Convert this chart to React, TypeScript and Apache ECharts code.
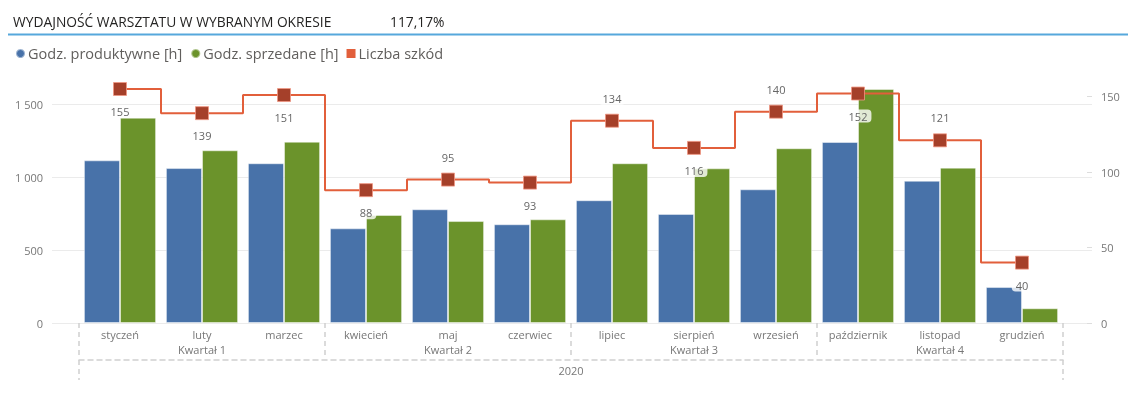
import React, { useEffect, useRef } from "react";
import * as echarts from "echarts";

const TITLE = "WYDAJNOŚĆ WARSZTATU W WYBRANYM OKRESIE";
const KPI = "117,17%";
const MONTHS = ["styczeń", "luty", "marzec", "kwiecień", "maj", "czerwiec", "lipiec", "sierpień", "wrzesień", "październik", "listopad", "grudzień"];
const QUARTERS = ["Kwartał 1", "Kwartał 2", "Kwartał 3", "Kwartał 4"];
const YEARS = ["2020"];
const SERIES_NAMES = ["Godz. produktywne [h]", "Godz. sprzedane [h]", "Liczba szkód"];
const PRODUCTIVE = [1117, 1064, 1097, 650, 781, 678, 843, 749, 918, 1243, 977, 247];
const SOLD = [1410, 1186, 1245, 742, 700, 712, 1097, 1062, 1200, 1607, 1067, 101];
const CLAIMS = [155, 139, 151, 88, 95, 93, 134, 116, 140, 152, 121, 40];
const LABEL_SIDES = ["bottom", "bottom", "bottom", "bottom", "top", "bottom", "top", "bottom", "top", "bottom", "top", "bottom"];

const FONT = "'Segoe UI', 'Open Sans', sans-serif";
const BLUE = "#4872A9";
const GREEN = "#6B932B";
const LINE = "#E25F3B";
const MARKER = "#A5402A";
const AXIS_TXT = "#777777";
const DASH = "#cfcfcf";

const fmt = (v: number) => String(v).replace(/\B(?=(\d{3})+(?!\d))/g, " ");

export default function App() {
  const ref = useRef<HTMLDivElement>(null);
  useEffect(() => {
    if (!ref.current) return;
    const chart = echarts.init(ref.current, null, { renderer: "svg" });
    const leftMax = Math.max(...PRODUCTIVE, ...SOLD);
    const rightMax = Math.max(...CLAIMS);
    const top = 89;
    const height = 234;
    const dashStyle = { color: DASH, width: 1.5, type: [5, 4] as any };
    chart.setOption({
      animation: false,
      textStyle: { fontFamily: FONT },
      graphic: [
        { type: "text", left: 13, top: 14, style: { text: TITLE, fontSize: 13.8, fill: "#252423", fontFamily: FONT } },
        { type: "text", left: 390, top: 14, style: { text: KPI, fontSize: 13.8, fill: "#252423", fontFamily: FONT } },
        { type: "line", shape: { x1: 8, y1: 34.5, x2: 1128, y2: 34.5 }, style: { stroke: "#56A8DC", lineWidth: 2 } },
      ],
      legend: {
        left: 10,
        top: 41,
        itemWidth: 9,
        itemHeight: 9,
        itemGap: 8,
        textStyle: { color: "#605E5C", fontSize: 14.5, fontFamily: FONT, padding: [0, 0, 0, -2] },
        data: [
          { name: SERIES_NAMES[0], icon: "circle" },
          { name: SERIES_NAMES[1], icon: "circle" },
          { name: SERIES_NAMES[2], icon: "rect", itemStyle: { color: LINE, borderWidth: 0 } },
        ],
      },
      grid: [
        { left: 52, right: 49, top, height },
        { left: 79, right: 78, top, height },
        { left: 1087, width: 5, top, height },
      ],
      xAxis: [
        { gridIndex: 0, type: "category", data: [""], show: false },
        {
          gridIndex: 1,
          type: "category",
          data: MONTHS,
          axisLine: { show: false },
          axisTick: { show: false },
          axisLabel: { color: AXIS_TXT, fontSize: 11, margin: 6, interval: 0 },
        },
        {
          gridIndex: 1,
          type: "category",
          data: QUARTERS,
          position: "bottom",
          offset: 5,
          axisLine: { show: false },
          axisTick: { show: true, length: 32, lineStyle: dashStyle },
          axisLabel: { color: AXIS_TXT, fontSize: 11, margin: 16, interval: 0 },
        },
        {
          gridIndex: 1,
          type: "category",
          data: YEARS,
          position: "bottom",
          offset: 37,
          axisLine: { show: true, lineStyle: dashStyle },
          axisTick: { show: true, length: 20, lineStyle: dashStyle },
          axisLabel: { color: AXIS_TXT, fontSize: 11, margin: 5 },
        },
        { gridIndex: 2, type: "category", data: [""], show: false },
      ],
      yAxis: [
        {
          gridIndex: 0,
          type: "value",
          position: "left",
          min: 0,
          max: leftMax,
          interval: 500,
          axisLine: { show: false },
          axisTick: { show: false },
          axisLabel: { color: AXIS_TXT, fontSize: 11, margin: 9, showMaxLabel: false, formatter: fmt },
          splitLine: { show: true, showMaxLine: false, lineStyle: { color: "#ebebeb", width: 1 } },
        },
        {
          gridIndex: 0,
          type: "value",
          position: "right",
          min: 0,
          max: rightMax,
          interval: 50,
          axisLine: { show: false },
          axisTick: { show: false },
          axisLabel: { color: AXIS_TXT, fontSize: 11, margin: 9, showMaxLabel: false },
          splitLine: { show: false },
        },
        { gridIndex: 1, type: "value", min: 0, max: leftMax, show: false, splitLine: { show: false } },
        { gridIndex: 1, type: "value", min: 0, max: rightMax, show: false, splitLine: { show: false } },
        {
          gridIndex: 2,
          type: "value",
          min: 0,
          max: rightMax,
          interval: 50,
          axisLine: { show: false },
          axisTick: { show: false },
          axisLabel: { show: false },
          splitLine: { show: true, showMaxLine: false, lineStyle: { color: "#dddddd", width: 1 } },
        },
      ],
      series: [
        {
          name: SERIES_NAMES[0],
          type: "bar",
          xAxisIndex: 1,
          yAxisIndex: 2,
          data: PRODUCTIVE,
          barGap: "0%",
          barCategoryGap: "12%",
          itemStyle: { color: BLUE, borderColor: "rgba(255,255,255,0.45)", borderWidth: 1 },
        },
        {
          name: SERIES_NAMES[1],
          type: "bar",
          xAxisIndex: 1,
          yAxisIndex: 2,
          data: SOLD,
          barGap: "0%",
          barCategoryGap: "12%",
          itemStyle: { color: GREEN, borderColor: "rgba(255,255,255,0.45)", borderWidth: 1 },
        },
        {
          name: SERIES_NAMES[2],
          type: "line",
          xAxisIndex: 1,
          yAxisIndex: 3,
          step: "middle",
          symbol: "rect",
          symbolSize: 13,
          z: 5,
          lineStyle: { color: LINE, width: 2 },
          itemStyle: { color: MARKER, borderColor: "rgba(240,150,130,0.8)", borderWidth: 1 },
          data: CLAIMS.map((v, i) => ({
            value: v,
            label: { position: LABEL_SIDES[i] },
          })),
          label: {
            show: true,
            distance: 9,
            color: "#666666",
            fontSize: 11,
            fontFamily: FONT,
            backgroundColor: "rgba(255,255,255,0.8)",
            borderRadius: 4,
            padding: [1, 4],
          },
        },
      ],
    });
    return () => chart.dispose();
  }, []);
  return <div ref={ref} style={{ position: "fixed", left: 0, top: 0, width: 1141, height: 396 }} />;
}
